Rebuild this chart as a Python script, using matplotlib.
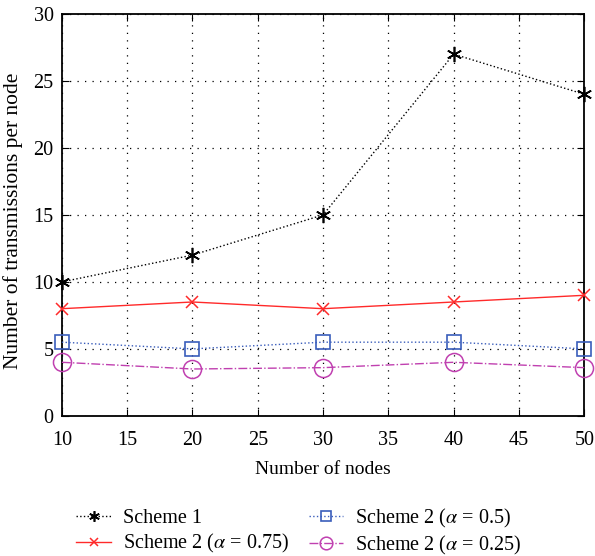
import numpy as np
import matplotlib.pyplot as plt

plt.rcParams['font.family'] = ['Liberation Serif', 'DejaVu Serif']
plt.rcParams['mathtext.fontset'] = 'stix'

nodes = [10, 20, 30, 40, 50]
scheme1 = [10, 12, 15, 27, 24]
scheme2_075 = [8, 8.5, 8, 8.5, 9]
scheme2_05 = [5.5, 5, 5.5, 5.5, 5]
scheme2_025 = [4, 3.5, 3.6, 4, 3.6]

fig = plt.figure(figsize=(5.95, 5.56), dpi=100)
ax = fig.add_axes([0.104, 0.252, 0.878, 0.723])

l1, = ax.plot(nodes, scheme1, color='black', linestyle=':', linewidth=1,
              marker=(6, 2, 0), markersize=11, markeredgewidth=1.2,
              label='Scheme 1', clip_on=False, zorder=5)
l2, = ax.plot(nodes, scheme2_075, color='#ff2a2a', linestyle='-', linewidth=1,
              marker='x', markersize=8, markeredgewidth=1.1,
              label=r'Scheme 2 ($\alpha$ = 0.75)', clip_on=False, zorder=5)
l3, = ax.plot(nodes, scheme2_05, color='#3a5dbb', linestyle=':', linewidth=1,
              marker='s', markersize=10, markerfacecolor='none', markeredgewidth=1.2,
              label=r'Scheme 2 ($\alpha$ = 0.5)', clip_on=False, zorder=5)
l4, = ax.plot(nodes, scheme2_025, color='#c040b0', linestyle='-.', linewidth=1,
              marker='o', markersize=13, markerfacecolor='none', markeredgewidth=1.1,
              label=r'Scheme 2 ($\alpha$ = 0.25)', clip_on=False, zorder=5)

ax.set_xlim(10, 50)
ax.set_ylim(0, 30)
ax.set_xticks(np.arange(10, 51, 5))
ax.set_yticks(np.arange(0, 31, 5))
ax.tick_params(direction='in', labelsize=14.5, length=5, top=True, right=True)
ax.tick_params(axis='x', pad=11)
ax.tick_params(axis='y', pad=6)
ax.grid(True, color='black', linestyle=(0, (1, 5)), linewidth=0.9)
for s in ax.spines.values():
    s.set_linewidth(1.3)

ax.set_xlabel('Number of nodes', fontsize=14, labelpad=8)
ax.set_ylabel('Number of transmissions per node', fontsize=15.5)
ax.yaxis.set_label_coords(-0.075, 0.485)

fig.legend(handles=[l1, l2, l3, l4], ncol=2, loc='lower left',
           bbox_to_anchor=(0.098, -0.034), frameon=False, fontsize=14.5,
           handlelength=1.7, columnspacing=1.0, labelspacing=0.2,
           handletextpad=0.6, markerscale=0.7)

fig.savefig('out.png', dpi=100)
